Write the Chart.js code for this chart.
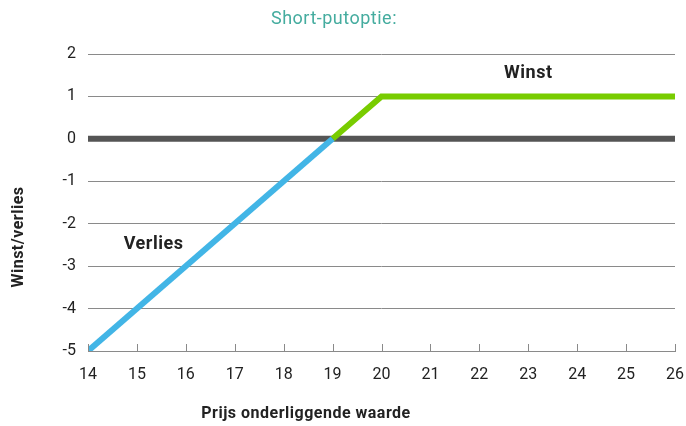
<!DOCTYPE html>
<html>
<head>
<meta charset="utf-8">
<script src="https://cdn.jsdelivr.net/npm/chart.js@4"></script>
<style>
  html, body { margin: 0; padding: 0; background: #fff; }
  #wrap { width: 686px; height: 426px; }
</style>
</head>
<body>
<div id="wrap"><canvas id="c"></canvas></div>
<script>
// data
const lossX = [14, 19];
const lossY = [-5, 0];
const gainX = [19, 20, 26];
const gainY = [0, 1, 1];
const zeroX = [14, 26];
const zeroY = [0, 0];
const xMin = 14, xMax = 26;
const yMin = -5, yMax = 2;

const titel = "Short-putoptie:";
const xTitel = "Prijs onderliggende waarde";
const yTitel = "Winst/verlies";
const labels = [
  { tekst: "Winst", x: 23.0, y: 1.55 },
  { tekst: "Verlies", x: 15.34, y: -2.5 }
];

const FONT = "Roboto, 'Open Sans', sans-serif";

function punten(xs, ys) {
  return xs.map((x, i) => ({ x: x, y: ys[i] }));
}

// extra tekst en tick-streepjes
const extras = {
  id: "extras",
  afterDraw(chart) {
    const ctx = chart.ctx;
    const xs = chart.scales.x, ys = chart.scales.y;
    ctx.save();
    // tick marks op de x-as, naar boven
    ctx.strokeStyle = "#8a8a8a";
    ctx.lineWidth = 1;
    for (let v = xMin; v <= xMax; v++) {
      const px = Math.round(xs.getPixelForValue(v)) + 0.5;
      ctx.beginPath();
      ctx.moveTo(px, ys.bottom);
      ctx.lineTo(px, ys.bottom - 7);
      ctx.stroke();
    }
    ctx.textAlign = "center";
    ctx.textBaseline = "middle";
    ctx.letterSpacing = "0.5px";
    // titel
    ctx.fillStyle = "#45ac9f";
    ctx.font = "18px " + FONT;
    ctx.fillText(titel, 334, 19);
    // as-titels
    ctx.fillStyle = "#222";
    ctx.font = "bold 16px " + FONT;
    ctx.fillText(xTitel, 306, 414);
    ctx.save();
    ctx.translate(19, 237);
    ctx.rotate(-Math.PI / 2);
    ctx.fillText(yTitel, 0, 0);
    ctx.restore();
    // Winst / Verlies
    ctx.font = "bold 18px " + FONT;
    labels.forEach(l => {
      ctx.fillText(l.tekst, xs.getPixelForValue(l.x), ys.getPixelForValue(l.y));
    });
    ctx.restore();
  }
};

new Chart(document.getElementById("c"), {
  type: "line",
  data: {
    datasets: [
      { data: punten(lossX, lossY), borderColor: "#42b5e6", borderWidth: 6, pointRadius: 0, borderCapStyle: "butt" },
      { data: punten(gainX, gainY), borderColor: "#78cc00", borderWidth: 6, pointRadius: 0, borderCapStyle: "butt" },
      { data: punten(zeroX, zeroY), borderColor: "#555555", borderWidth: 6, pointRadius: 0, borderCapStyle: "butt" }
    ]
  },
  options: {
    responsive: true,
    maintainAspectRatio: false,
    animation: false,
    layout: { padding: { left: 0, right: 11, top: 54, bottom: 0 } },
    plugins: { legend: { display: false }, tooltip: { enabled: false } },
    scales: {
      x: {
        type: "linear",
        min: xMin, max: xMax,
        afterFit(s) { s.height = 75; s.paddingRight = 0; s.paddingLeft = 0; },
        grid: { display: false },
        border: { display: true, color: "#8a8a8a", width: 1 },
        ticks: {
          stepSize: 1,
          padding: 6,
          color: "#222",
          font: { family: FONT, size: 16 }
        }
      },
      y: {
        min: yMin, max: yMax,
        afterFit(s) { s.width = 88; s.paddingTop = 0; s.paddingBottom = 0; },
        grid: { color: "#8a8a8a", lineWidth: 1, drawTicks: false },
        border: { display: false },
        ticks: {
          stepSize: 1,
          padding: 12,
          color: "#222",
          font: { family: FONT, size: 16 }
        }
      }
    }
  },
  plugins: [extras]
});
</script>
</body>
</html>
